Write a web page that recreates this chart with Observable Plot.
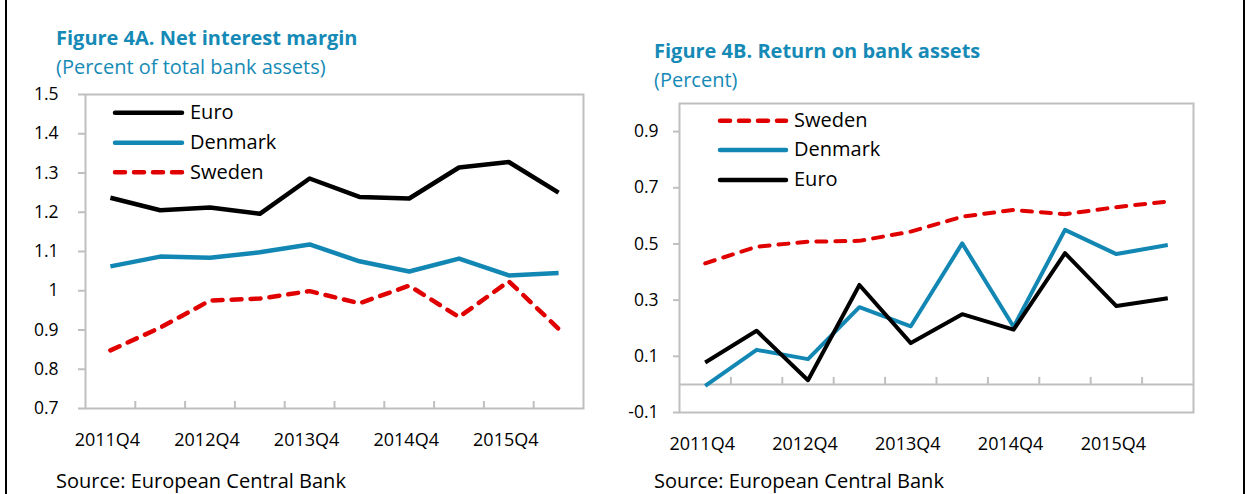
<!DOCTYPE html>
<html>
<head>
<meta charset="utf-8">
<script src="https://cdn.jsdelivr.net/npm/d3@7"></script>
<script src="https://cdn.jsdelivr.net/npm/@observablehq/plot@0.6"></script>
<style>
  html, body { margin: 0; padding: 0; background: #fff; }
  #page { position: relative; width: 1249px; height: 494px; overflow: hidden; font-family: "Open Sans", sans-serif; color: #000; background: #fff; }
  .t { position: absolute; white-space: nowrap; line-height: 1; margin: 0; }
  .panel { position: absolute; }
  .panel svg { overflow: visible; }
  .vline { position: absolute; top: 0; width: 2px; height: 494px; background: #000; }
</style>
</head>
<body>
<div id="page"></div>
<script>
// ---------- data ----------
const categories = ["2011Q4","2012Q2","2012Q4","2013Q2","2013Q4","2014Q2","2014Q4","2015Q2","2015Q4","2016Q2"];
const xTickLabels = ["2011Q4","2012Q4","2013Q4","2014Q4","2015Q4"];

// Figure 4A. Net interest margin (percent of total bank assets)
const nimEuro    = [1.237, 1.205, 1.212, 1.196, 1.286, 1.239, 1.235, 1.314, 1.328, 1.250];
const nimDenmark = [1.062, 1.087, 1.084, 1.098, 1.118, 1.075, 1.049, 1.082, 1.039, 1.045];
const nimSweden  = [0.848, 0.906, 0.975, 0.980, 0.999, 0.968, 1.013, 0.933, 1.024, 0.903];
const nimTicks   = [0.7, 0.8, 0.9, 1, 1.1, 1.2, 1.3, 1.4, 1.5];

// Figure 4B. Return on bank assets (percent)
const roaSweden  = [0.431, 0.490, 0.508, 0.511, 0.544, 0.597, 0.621, 0.606, 0.631, 0.651];
const roaDenmark = [-0.005, 0.123, 0.090, 0.275, 0.207, 0.502, 0.205, 0.550, 0.464, 0.496];
const roaEuro    = [0.078, 0.191, 0.015, 0.354, 0.147, 0.250, 0.195, 0.467, 0.279, 0.307];
const roaTicks   = [-0.1, 0.1, 0.3, 0.5, 0.7, 0.9];

// ---------- styles ----------
const BLUE_TITLE = "#168ab6";
const DK = "#1287b3";
const RED = "#e00000";
const GRAY = "#bfbfbf";
const FONT = '"Open Sans", sans-serif';
const TXT = 20;

const page = document.getElementById("page");

function addText(str, left, baseline, size, opts = {}) {
  const d = document.createElement("div");
  d.className = "t";
  d.textContent = str;
  d.style.left = left + "px";
  d.style.top = (baseline - 0.888 * size) + "px";
  d.style.fontSize = size + "px";
  d.style.height = size + "px";
  d.style.fontWeight = opts.bold ? "700" : "400";
  d.style.color = opts.color || "#000";
  page.appendChild(d);
}

function rows(series) {
  const out = [];
  for (const s of series) s.values.forEach((v, i) => out.push({series: s.name, category: categories[i], value: v}));
  return out;
}

const fmt = d => String(+d.toFixed(1));
const idxOf = d => categories.indexOf(d.category);
const boundaries = categories.slice(1).map((c, i) => i + 0.5);
const labelIdx = xTickLabels.map(l => categories.indexOf(l));

function lineMark(data, name, color, dashed, sw) {
  return Plot.line(data.filter(d => d.series === name), {
    x: idxOf, y: "value", stroke: color, strokeWidth: sw,
    strokeLinecap: dashed ? "round" : "butt", strokeLinejoin: "round",
    strokeDasharray: dashed ? "10,9" : null
  });
}

function makePanel(cfg) {
  const innerH = cfg.height - cfg.marginTop - cfg.marginBottom;
  const pxPerUnit = innerH / (cfg.yDomain[1] - cfg.yDomain[0]);
  const data = rows(cfg.series);
  const marks = [
    Plot.frame({stroke: GRAY, strokeWidth: 2}),
  ];
  if (cfg.zero) marks.push(Plot.ruleY([0], {stroke: GRAY, strokeWidth: 2}));
  marks.push(
    Plot.ruleX(boundaries, {x: d => d, y1: cfg.tickBase, y2: cfg.tickBase + 7 / pxPerUnit, stroke: GRAY, strokeWidth: 2}),
    Plot.axisY({ticks: cfg.yTicks, tickSize: cfg.yTickSize, tickPadding: cfg.yTickPadding, tickFormat: fmt,
      stroke: GRAY, strokeWidth: 2, fill: "#000", fontSize: 17.5, label: null}),
    Plot.axisX({ticks: labelIdx, tickSize: 0, tickPadding: 25, tickFormat: i => categories[i],
      fill: "#000", fontSize: 18, dx: -3, label: null})
  );
  for (const s of cfg.drawOrder) marks.push(lineMark(data, s.name, s.color, s.dashed, cfg.lineWidth));
  const svg = Plot.plot({
    width: cfg.width, height: cfg.height,
    marginTop: cfg.marginTop, marginRight: cfg.marginRight, marginBottom: cfg.marginBottom, marginLeft: cfg.marginLeft,
    style: {fontFamily: FONT, fontSize: "17px", color: "#000", background: "transparent", overflow: "visible"},
    x: {type: "linear", domain: [-0.5, categories.length - 0.5]},
    y: {domain: cfg.yDomain},
    marks
  });
  const wrap = document.createElement("div");
  wrap.className = "panel";
  wrap.style.left = cfg.left + "px";
  wrap.style.top = cfg.top + "px";
  wrap.appendChild(svg);
  page.appendChild(wrap);
}

function legend(items, x1, x2, textX, ys) {
  const svgNS = "http://www.w3.org/2000/svg";
  const svg = document.createElementNS(svgNS, "svg");
  svg.setAttribute("width", 1249); svg.setAttribute("height", 494);
  svg.style.position = "absolute"; svg.style.left = "0px"; svg.style.top = "0px";
  items.forEach((it, k) => {
    const l = document.createElementNS(svgNS, "line");
    l.setAttribute("x1", x1); l.setAttribute("x2", x2);
    l.setAttribute("y1", ys[k]); l.setAttribute("y2", ys[k]);
    l.setAttribute("stroke", it.color); l.setAttribute("stroke-width", 4.5);
    l.setAttribute("stroke-linecap", "round");
    if (it.dashed) l.setAttribute("stroke-dasharray", "10,9");
    svg.appendChild(l);
  });
  page.appendChild(svg);
  items.forEach((it, k) => addText(it.name, textX, ys[k] + 7, TXT));
}

// borders
for (const x of [5, 1243]) { const v = document.createElement("div"); v.className = "vline"; v.style.left = x + "px"; page.appendChild(v); }

// ---------- Figure 4A ----------
addText("Figure 4A. Net interest margin", 56, 45.7, TXT, {bold: true, color: BLUE_TITLE});
addText("(Percent of total bank assets)", 56, 75, TXT, {color: BLUE_TITLE});
makePanel({
  left: 0, top: 84, width: 600, height: 376,
  marginTop: 10, marginRight: 17, marginBottom: 52, marginLeft: 85,
  yDomain: [0.7, 1.5], yTicks: nimTicks, yTickSize: 7, yTickPadding: 20,
  tickBase: 0.7, zero: false, lineWidth: 4.5,
  series: [{name: "Euro", values: nimEuro}, {name: "Denmark", values: nimDenmark}, {name: "Sweden", values: nimSweden}],
  drawOrder: [{name: "Euro", color: "#000"}, {name: "Denmark", color: DK}, {name: "Sweden", color: RED, dashed: true}]
});
legend([{name: "Euro", color: "#000"}, {name: "Denmark", color: DK}, {name: "Sweden", color: RED, dashed: true}],
  115, 182, 190, [112.7, 142.7, 172.3]);
addText("Source: European Central Bank", 56, 488.3, TXT);

// ---------- Figure 4B ----------
addText("Figure 4B. Return on bank assets", 654, 58.3, TXT, {bold: true, color: BLUE_TITLE});
addText("(Percent)", 654, 87.3, TXT, {color: BLUE_TITLE});
makePanel({
  left: 600, top: 93, width: 620, height: 372,
  marginTop: 10, marginRight: 27, marginBottom: 53, marginLeft: 79,
  yDomain: [-0.1, 1.0], yTicks: roaTicks, yTickSize: 6, yTickPadding: 15,
  tickBase: 0, zero: true, lineWidth: 4,
  series: [{name: "Sweden", values: roaSweden}, {name: "Denmark", values: roaDenmark}, {name: "Euro", values: roaEuro}],
  drawOrder: [{name: "Sweden", color: RED, dashed: true}, {name: "Denmark", color: DK}, {name: "Euro", color: "#000"}]
});
legend([{name: "Sweden", color: RED, dashed: true}, {name: "Denmark", color: DK}, {name: "Euro", color: "#000"}],
  720, 786, 794, [120.7, 150, 180]);
addText("Source: European Central Bank", 654, 488.3, TXT);
</script>
</body>
</html>
